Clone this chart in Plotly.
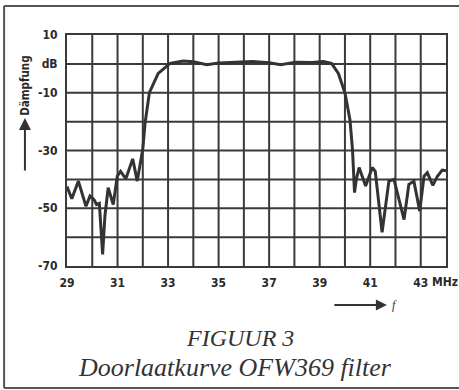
import plotly.graph_objects as go

freq = [29.0, 29.19, 29.45, 29.75, 29.91, 30.07, 30.17, 30.28, 30.41, 30.5, 30.63, 30.83,
        30.99, 31.12, 31.33, 31.6, 31.78, 31.92, 32.0, 32.09, 32.26, 32.61, 33.08, 33.6,
        34.0, 34.53, 35.0, 35.45, 36.33, 37.0, 37.46, 38.05, 38.7, 39.14, 39.47, 39.74,
        40.0, 40.2, 40.3, 40.38, 40.45, 40.56, 40.82, 41.08, 41.2, 41.47, 41.74, 41.94,
        42.34, 42.53, 42.73, 42.96, 43.13, 43.26, 43.48, 43.66, 43.85, 44.0]
atten = [-42.5, -46.7, -40.6, -49.3, -45.8, -47.0, -48.7, -48.3, -66.0, -52.7, -42.9, -48.7,
         -38.9, -37.2, -39.8, -32.9, -40.6, -33.1, -29.5, -20.5, -10.0, -3.3, 0.2, 1.0,
         0.7, -0.3, 0.3, 0.5, 0.8, 0.4, -0.3, 0.6, 0.5, 0.8, 0.2, -3.3,
         -10.0, -19.4, -29.8, -44.6, -40.0, -35.9, -42.3, -35.9, -37.2, -58.3, -40.6, -40.0,
         -53.9, -41.7, -40.6, -51.0, -38.9, -37.7, -42.1, -38.9, -36.8, -37.0]

x_tickvals = [29, 31, 33, 35, 37, 39, 41, 43]
x_ticktext = ["29", "31", "33", "35", "37", "39", "41", "43"]
y_tickvals = [10, 0, -10, -30, -50, -70]
y_ticktext = ["10", "dB", "-10", "-30", "-50", "-70"]

INK = "#3a3a3a"
LBL = dict(family="DejaVu Sans Condensed", size=12, color="#2a2a2a", weight="bold")

fig = go.Figure()
fig.add_trace(go.Scatter(x=freq, y=atten, mode="lines",
                         line=dict(color="#333333", width=3), hoverinfo="skip"))

fig.update_layout(
    width=459, height=390,
    margin=dict(l=67, r=13, t=35, b=124, autoexpand=False),
    paper_bgcolor="white", plot_bgcolor="white",
    showlegend=False,
    xaxis=dict(range=[29, 44], tickvals=x_tickvals, ticktext=x_ticktext,
               showgrid=False, zeroline=False, automargin=False,
               showline=True, mirror=True, linecolor=INK, linewidth=2,
               ticks="", tickfont=LBL, ticklabelstandoff=5),
    yaxis=dict(range=[-70, 10], tickvals=y_tickvals, ticktext=y_ticktext,
               showgrid=False, zeroline=False, automargin=False,
               showline=True, mirror=True, linecolor=INK, linewidth=2,
               ticks="", tickfont=LBL, ticklabelstandoff=5),
)

# grid: every 1 MHz and every 10 dB
for v in range(30, 44):
    fig.add_shape(type="line", xref="x", yref="y", x0=v, x1=v, y0=-70, y1=10,
                  line=dict(color=INK, width=2), layer="below")
for v in range(-60, 10, 10):
    fig.add_shape(type="line", xref="x", yref="y", x0=29, x1=44, y0=v, y1=v,
                  line=dict(color=INK, width=2), layer="below")

# outer frame (left, top, bottom)
fig.add_shape(type="line", xref="paper", yref="paper", x0=-0.166, x1=-0.166, y0=-0.528, y1=1.1255,
              line=dict(color="#555555", width=2))
fig.add_shape(type="line", xref="paper", yref="paper", x0=-0.166, x1=1.04, y0=1.1255, y1=1.1255,
              line=dict(color="#555555", width=2))
fig.add_shape(type="line", xref="paper", yref="paper", x0=-0.166, x1=1.04, y0=-0.528, y1=-0.528,
              line=dict(color="#555555", width=2))

# MHz unit next to 43
fig.add_annotation(x=43.38, y=0, xref="x", yref="paper", yshift=-16, text="MHz",
                   showarrow=False, xanchor="left", yanchor="middle", font=LBL)

# y axis title with arrow
fig.add_annotation(x=-0.111, y=0.78, xref="paper", yref="paper", text="Dämpfung",
                   textangle=-90, showarrow=False, xanchor="center", yanchor="middle",
                   font=dict(family="DejaVu Sans Condensed", size=11.5, color="#2a2a2a", weight="bold"))
fig.add_annotation(x=-0.111, y=0.641, xref="paper", yref="paper", text="",
                   showarrow=True, ax=0, ay=54, arrowhead=2, arrowsize=1.2,
                   arrowwidth=2, arrowcolor="#333333")

# f arrow
fig.add_annotation(x=0.844, y=-0.169, xref="paper", yref="paper", text="",
                   showarrow=True, ax=-54, ay=0, arrowhead=2, arrowsize=1.1,
                   arrowwidth=2, arrowcolor="#333333")
fig.add_annotation(x=0.853, y=-0.169, xref="paper", yref="paper", text="<i>f</i>",
                   showarrow=False, xanchor="left", yanchor="middle",
                   font=dict(family="Liberation Serif", size=12, color="#333333"))

# captions
fig.add_annotation(x=0.457, y=-0.312, xref="paper", yref="paper", text="<i>FIGUUR 3</i>",
                   showarrow=False, xanchor="center", yanchor="middle",
                   font=dict(family="Liberation Serif", size=24, color="#333333"))
fig.add_annotation(x=0.443, y=-0.44, xref="paper", yref="paper",
                   text="<i>Doorlaatkurve OFW369 filter</i>",
                   showarrow=False, xanchor="center", yanchor="middle",
                   font=dict(family="Liberation Serif", size=26, color="#333333"))

fig.write_html("out.html", config={"displayModeBar": False},
               post_script="document.body.style.margin='0';document.body.style.padding='0';")
